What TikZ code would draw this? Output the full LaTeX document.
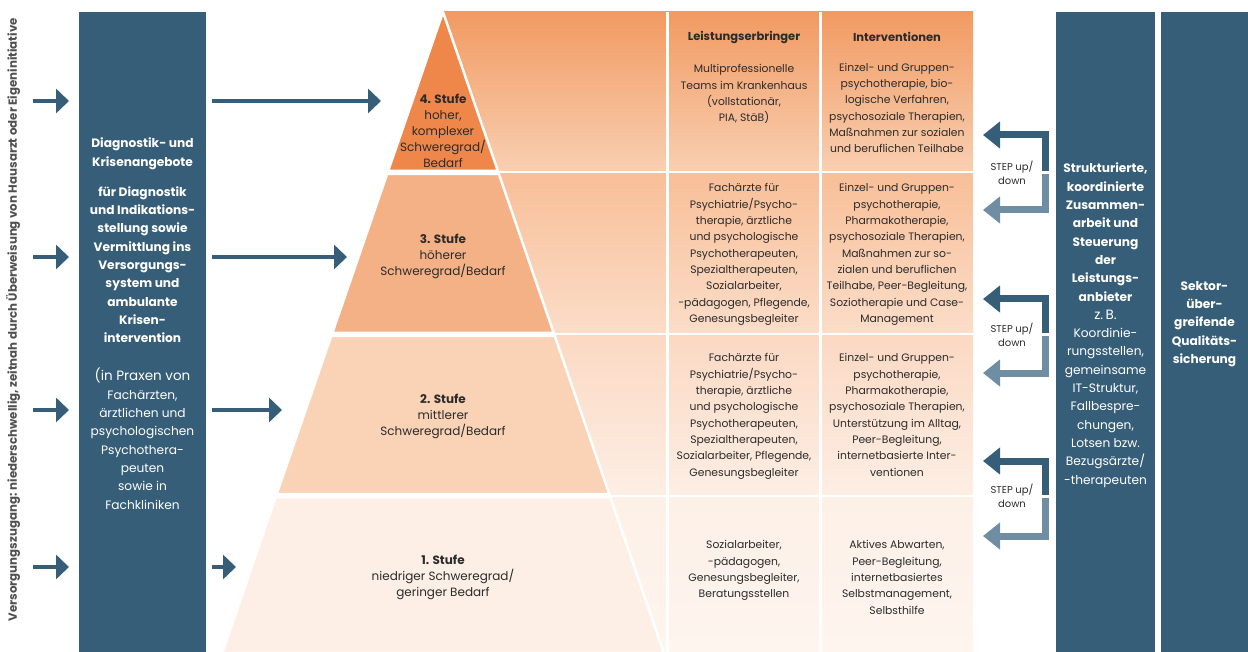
\documentclass[tikz,border=0pt]{standalone}
\usepackage{fontspec}
\setmainfont{Poppins}
\usetikzlibrary{positioning,arrows.meta}

\definecolor{slate}{HTML}{365E78}
\definecolor{slatelight}{HTML}{6F8DA3}
\definecolor{ink}{HTML}{2B2B2B}
\definecolor{sidegray}{HTML}{505050}
\definecolor{tierfour}{HTML}{F0874A}
\definecolor{tierthree}{HTML}{F5B186}
\definecolor{tiertwo}{HTML}{FAD3B7}
\definecolor{tierone}{HTML}{FDEFE6}
\definecolor{rowfourtop}{HTML}{F29A62}
\definecolor{rowfourbot}{HTML}{F8CFB1}
\definecolor{rowthreetop}{HTML}{F8BF98}
\definecolor{rowthreebot}{HTML}{FBDDC8}
\definecolor{rowtwotop}{HTML}{FBD9C3}
\definecolor{rowtwobot}{HTML}{FDEEE4}
\definecolor{rowonetop}{HTML}{FDF0E7}
\definecolor{rowonebot}{HTML}{FEF5EF}

\newcommand{\tabfont}{\fontsize{10.8}{16.3}\selectfont}
\newcommand{\boxfont}{\fontsize{12.2}{18.3}\selectfont}
\newcommand{\boxplain}{\fontsize{13.5}{18.3}\selectfont}

\tikzstyle{flow} = [line width=4.5pt, draw=slate, -{Triangle[length=13pt,width=24pt]}]
\tikzstyle{stepup} = [line width=7pt, draw=slate, line join=miter, -{Triangle[length=17pt,width=26pt]}]
\tikzstyle{stepdown} = [line width=7pt, draw=slatelight, line join=miter, -{Triangle[length=17pt,width=26pt]}]

\begin{document}
\begin{tikzpicture}[x=1pt, y=-1pt,
    column/.style={
        fill=slate,
        anchor=north west,
        minimum height=640pt,
        inner sep=0pt
    },
    boxtext/.style={
        text=white,
        align=center,
        font=\boxfont,
        inner sep=0pt,
        anchor=north
    },
    tier/.style={
        draw=white,
        line width=2.5pt,
        line join=round
    },
    cell/.style={
        text=ink,
        align=center,
        font=\tabfont,
        inner sep=0pt,
        anchor=north
    },
    tierlabel/.style={
        text=ink,
        align=center,
        font=\fontsize{12}{16}\selectfont,
        inner sep=0pt
    },
    steplabel/.style={
        text=ink,
        align=center,
        font=\fontsize{10}{14}\selectfont,
        inner sep=0pt
    }
    ]

    \useasboundingbox (0,0) rectangle (1248,652);

    % table rows behind the pyramid
    \foreach \ya/\yb/\xa/\ct/\cb in {12/171/443/rowfourtop/rowfourbot,
                                     174/333/498/rowthreetop/rowthreebot,
                                     336/494/555/rowtwotop/rowtwobot,
                                     497/652/610/rowonetop/rowonebot}
        \fill[top color=\ct, bottom color=\cb] (\xa,\ya) rectangle (973,\yb);
    \draw[white, line width=3pt] (667.5,12) -- (667.5,652);
    \draw[white, line width=3pt] (820.5,12) -- (820.5,652);

    % pyramid
    \path[tier, fill=tierfour]  (443,12) -- (497.9,171) -- (388.1,171) -- cycle;
    \path[tier, fill=tierthree] (387.1,174) -- (498.9,174) -- (553.7,333) -- (332.3,333) -- cycle;
    \path[tier, fill=tiertwo]   (331.2,336) -- (554.8,336) -- (609.3,494) -- (276.7,494) -- cycle;
    \path[tier, fill=tierone]   (275.7,497) -- (610.3,497) -- (663.8,653) -- (222.2,653) -- cycle;

    \node[tierlabel] (stufevier) at (443,131) {\textbf{4. Stufe}\\hoher,\\komplexer\\Schweregrad/\\Bedarf};
    \node[tierlabel] (stufedrei) at (443,256) {\textbf{3. Stufe}\\höherer\\Schweregrad/Bedarf};
    \node[tierlabel] (stufezwei) at (443,416) {\textbf{2. Stufe}\\mittlerer\\Schweregrad/Bedarf};
    \node[tierlabel] (stufeeins) at (443,577) {\textbf{1. Stufe}\\niedriger Schweregrad/\\geringer Bedarf};

    % headers
    \node[cell, anchor=center, font=\fontsize{11.5}{14}\selectfont\bfseries] (hdrprov) at (744,37) {Leistungserbringer};
    \node[cell, anchor=center, font=\fontsize{11.5}{14}\selectfont\bfseries] (hdrint) at (897,37) {Interventionen};

    % Leistungserbringer
    \node[cell, below=21pt of hdrprov] (provvier) {Multiprofessionelle\\Teams im Krankenhaus\\(vollstationär,\\PIA, StäB)};
    \node[cell] (provdrei) at (744,183.5) {Fachärzte für\\Psychiatrie/Psycho-\\therapie, ärztliche\\und psychologische\\Psychotherapeuten,\\Spezialtherapeuten,\\Sozialarbeiter,\\-pädagogen, Pflegende,\\Genesungsbegleiter};
    \node[cell] (provzwei) at (744,353.5) {Fachärzte für\\Psychiatrie/Psycho-\\therapie, ärztliche\\und psychologische\\Psychotherapeuten,\\Spezialtherapeuten,\\Sozialarbeiter, Pflegende,\\Genesungsbegleiter};
    \node[cell] (proveins) at (744,540.5) {Sozialarbeiter,\\-pädagogen,\\Genesungsbegleiter,\\Beratungsstellen};

    % Interventionen
    \node[cell, below=21pt of hdrint] (intvier) {Einzel- und Gruppen-\\psychotherapie, bio-\\logische Verfahren,\\psychosoziale Therapien,\\Maßnahmen zur sozialen\\und beruflichen Teilhabe};
    \node[cell] (intdrei) at (897,183.5) {Einzel- und Gruppen-\\psychotherapie,\\Pharmakotherapie,\\psychosoziale Therapien,\\Maßnahmen zur so-\\zialen und beruflichen\\Teilhabe, Peer-Begleitung,\\Soziotherapie und Case-\\Management};
    \node[cell] (intzwei) at (897,353.5) {Einzel- und Gruppen-\\psychotherapie,\\Pharmakotherapie,\\psychosoziale Therapien,\\Unterstützung im Alltag,\\Peer-Begleitung,\\internetbasierte Inter-\\ventionen};
    \node[cell] (inteins) at (897,540.5) {Aktives Abwarten,\\Peer-Begleitung,\\internetbasiertes\\Selbstmanagement,\\Selbsthilfe};

    % access column
    \node[rotate=90, anchor=east, inner sep=0pt, text=sidegray,
          font=\bfseries\fontsize{11.8}{14}\selectfont] (zugang) at (13,18)
        {Versorgungszugang: niederschwellig, zeitnah durch Überweisung von Hausarzt oder Eigeninitiative};

    % Diagnostik column
    \node[column, minimum width=127pt] (diag) at (79,12) {};
    \node[boxtext] (diagtext) at (142.5,138) {\textbf{Diagnostik- und}\\\textbf{Krisenangebote}\\[11.7pt]
        \textbf{für Diagnostik}\\\textbf{und Indikations-}\\\textbf{stellung sowie}\\\textbf{Vermittlung ins}\\
        \textbf{Versorgungs-}\\\textbf{system und}\\\textbf{ambulante}\\\textbf{Krisen-}\\\textbf{intervention}\\[20pt]
        \boxplain (in Praxen von\\Fachärzten,\\ärztlichen und\\psychologischen\\Psychothera-\\peuten\\sowie in\\Fachkliniken};

    % Koordination column
    \node[column, minimum width=99pt] (koord) at (1056,12) {};
    \node[boxtext] (koordtext) at (1105.5,163) {\textbf{Strukturierte,}\\\textbf{koordinierte}\\\textbf{Zusammen-}\\
        \textbf{arbeit und}\\\textbf{Steuerung}\\\textbf{der}\\\textbf{Leistungs-}\\\textbf{anbieter}\\
        \boxplain z.\,B.\\Koordinie-\\rungsstellen,\\gemeinsame\\IT-Struktur,\\Fallbespre-\\chungen,\\Lotsen bzw.\\Bezugsärzte/\\-therapeuten};

    % Qualitaet column
    \node[column, minimum width=87pt] (quali) at (1161,12) {};
    \node[boxtext] (qualitext) at (1204.5,281) {\textbf{Sektor-}\\\textbf{über-}\\\textbf{greifende}\\\textbf{Qualitäts-}\\\textbf{sicherung}};

    % entry arrows
    \foreach \y/\xe [count=\i] in {101/381, 257/347, 410/282, 567/236} {
        \coordinate (in\i) at (33,\y);
        \coordinate (box\i) at (69,\y);
        \coordinate (out\i) at (212,\y);
        \coordinate (lvl\i) at (\xe,\y);
        \draw[flow] (in\i) -- (box\i);
        \draw[flow] (out\i) -- (lvl\i);
    }

    % STEP up/down
    \foreach \yu/\ym/\yd [count=\i] in {135/172.5/210, 299/334.5/373, 461/496/536} {
        \coordinate (upa\i) at (1045,\ym-1.5);
        \coordinate (upb\i) at (983,\yu);
        \coordinate (dna\i) at (1045,\ym+1.5);
        \coordinate (dnb\i) at (983,\yd);
        \draw[stepup] (upa\i) |- (upb\i);
        \draw[stepdown] (dna\i) |- (dnb\i);
        \node[steplabel] (steptxt\i) at (1012,\ym) {STEP up/\\down};
    }
\end{tikzpicture}
\end{document}
